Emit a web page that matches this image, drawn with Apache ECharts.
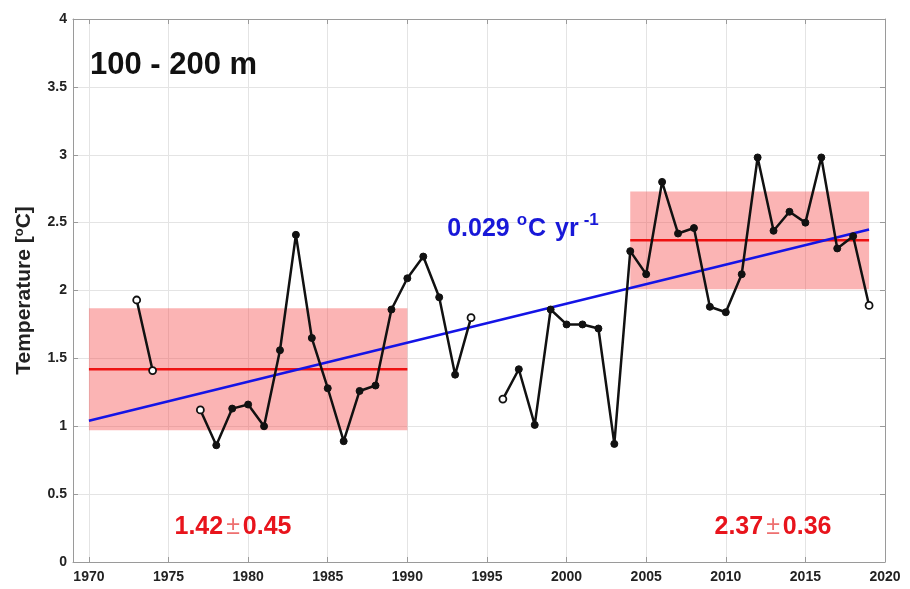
<!DOCTYPE html>
<html><head><meta charset="utf-8">
<script src="https://cdn.jsdelivr.net/npm/echarts@6/dist/echarts.min.js"></script>
<style>html,body{margin:0;padding:0;background:#fff}#c{width:910px;height:589px}</style>
</head><body><div id="c"></div>
<script>
// ---- data ----
const years = [1973,1974,1975,1976,1977,1978,1979,1980,1981,1982,1983,1984,1985,1986,1987,1988,1989,1990,
  1991,1992,1993,1994,1995,1996,1997,1998,1999,2000,2001,2002,2003,2004,2005,2006,2007,2008,2009,2010,
  2011,2012,2013,2014,2015,2016,2017,2018,2019];
const temps = [1.93,1.41,null,null,1.12,0.86,1.13,1.16,1.00,1.56,2.41,1.65,1.28,0.89,1.26,1.30,1.86,2.09,
  2.25,1.95,1.38,1.80,null,1.20,1.42,1.01,1.86,1.75,1.75,1.72,0.87,2.29,2.12,2.80,2.42,2.46,1.88,1.84,
  2.12,2.98,2.44,2.58,2.50,2.98,2.31,2.40,1.89];
const xTicks = [1970,1975,1980,1985,1990,1995,2000,2005,2010,2015,2020];
const periodEarly = [1970, 1990];
const periodLate = [2004, 2019];
const meanEarly = 1.42, sdEarly = 0.45;
const meanLate = 2.37, sdLate = 0.36;
const trendYears = [1970, 2019];
const trendValues = [1.04, 2.45];
const titleText = '100 - 200 m';
const trendText = '0.029';
// ---------------------------------------

const FONT = '"Liberation Sans", Arial, sans-serif';
const frameColor = '#9a9a9a';
const gridColor = '#e4e4e4';

const mainData = years.map((y, i) => {
  const v = temps[i];
  if (v === null) return [y, null];
  const prevNull = i === 0 || temps[i - 1] === null;
  const nextNull = i === temps.length - 1 || temps[i + 1] === null;
  if (prevNull || nextNull) {
    return { value: [y, v], itemStyle: { color: '#fff', borderColor: '#111', borderWidth: 1.8 } };
  }
  return [y, v];
});

const chart = echarts.init(document.getElementById('c'), null, { renderer: 'canvas' });
const option = {
  animation: false,
  backgroundColor: '#fff',
  grid: { left: 73, top: 19, right: 25, bottom: 27, containLabel: false, outerBoundsMode: 'none' },
  xAxis: [{
    type: 'value', min: 1969, max: 2020, position: 'bottom',
    axisLine: { show: true, onZero: false, lineStyle: { color: frameColor, width: 1 } },
    axisTick: { show: true, inside: true, length: 5, customValues: xTicks, lineStyle: { color: frameColor } },
    axisLabel: { show: true, customValues: xTicks, formatter: v => String(v), margin: 8, color: '#222', fontSize: 14, fontWeight: 'bold', fontFamily: FONT },
    splitLine: { show: true, lineStyle: { color: gridColor, width: 1 } }
  }, {
    type: 'value', min: 1969, max: 2020, position: 'top',
    axisLine: { show: true, onZero: false, lineStyle: { color: frameColor, width: 1 } },
    axisTick: { show: true, inside: true, length: 5, customValues: xTicks, lineStyle: { color: frameColor } },
    axisLabel: { show: false },
    splitLine: { show: false }
  }],
  yAxis: [{
    type: 'value', min: 0, max: 4, interval: 0.5, position: 'left',
    name: 'Temperature [{s|o}C]',
    nameLocation: 'middle', nameGap: 38,
    nameTextStyle: {
      color: '#222', fontSize: 21, fontWeight: 'bold', fontFamily: FONT, lineHeight: 22,
      rich: { s: { fontSize: 13, fontWeight: 'bold', fontFamily: FONT, color: '#222', verticalAlign: 'top', lineHeight: 13 } }
    },
    axisLine: { show: true, onZero: false, lineStyle: { color: frameColor, width: 1 } },
    axisTick: { show: true, inside: true, length: 5, lineStyle: { color: frameColor } },
    axisLabel: { margin: 6, color: '#222', fontSize: 14, fontWeight: 'bold', fontFamily: FONT },
    splitLine: { show: true, lineStyle: { color: gridColor, width: 1 } }
  }, {
    type: 'value', min: 0, max: 4, interval: 0.5, position: 'right',
    axisLine: { show: true, onZero: false, lineStyle: { color: frameColor, width: 1 } },
    axisTick: { show: true, inside: true, length: 5, lineStyle: { color: frameColor } },
    axisLabel: { show: false },
    splitLine: { show: false }
  }],
  series: [
    {
      type: 'line', data: [], z: 1, silent: true,
      markArea: {
        silent: true,
        itemStyle: { color: 'rgba(244,67,67,0.4)' },
        data: [
          [{ xAxis: periodEarly[0], yAxis: meanEarly - sdEarly }, { xAxis: periodEarly[1], yAxis: meanEarly + sdEarly }],
          [{ xAxis: periodLate[0], yAxis: meanLate - sdLate }, { xAxis: periodLate[1], yAxis: meanLate + sdLate }]
        ]
      }
    },
    {
      type: 'line', z: 3, symbol: 'none', silent: true,
      lineStyle: { color: '#ee1111', width: 2.5 },
      data: [[periodEarly[0], meanEarly], [periodEarly[1], meanEarly], [null, null], [periodLate[0], meanLate], [periodLate[1], meanLate]],
      connectNulls: false
    },
    {
      type: 'line', z: 4, symbol: 'none', silent: true,
      lineStyle: { color: '#1414e6', width: 2.5 },
      data: trendYears.map((y, i) => [y, trendValues[i]])
    },
    {
      type: 'line', z: 5, silent: true,
      data: mainData, connectNulls: false,
      symbol: 'circle', symbolSize: 7, showSymbol: true,
      lineStyle: { color: '#111', width: 2.5 },
      itemStyle: { color: '#111', borderColor: '#111', borderWidth: 1 }
    }
  ],
  graphic: [
    { type: 'text', left: 90, top: 50, z: 10, style: { text: titleText, font: 'bold 31px ' + FONT, fill: '#111' } },
    { type: 'text', z: 10, x: 523, y: 227, style: {
        text: '{n|' + trendText + ' }{s|o}{n|C }{y|yr}{m|-1}',
        align: 'center', verticalAlign: 'middle',
        rich: {
          n: { font: 'bold 25px ' + FONT, fill: '#1818d8', lineHeight: 30, verticalAlign: 'bottom' },
          y: { font: 'bold 25px ' + FONT, fill: '#1818d8', lineHeight: 30, verticalAlign: 'bottom', padding: [0, 4, 0, 2] },
          s: { font: 'bold 17px ' + FONT, fill: '#1818d8', lineHeight: 17, verticalAlign: 'top', padding: [0, 1, 0, 0] },
          m: { font: 'bold 17px ' + FONT, fill: '#1818d8', lineHeight: 17, verticalAlign: 'top', padding: [0, 0, 0, 1] }
        } } },
    { type: 'text', z: 10, x: 233, y: 527, style: {
        text: '{n|' + meanEarly.toFixed(2) + '}{p|±}{n|' + sdEarly.toFixed(2) + '}',
        align: 'center', verticalAlign: 'middle',
        rich: {
          n: { font: 'bold 25px ' + FONT, fill: '#e8141c' },
          p: { font: '25px ' + FONT, fill: '#ee7070', padding: [0, 3, 0, 3] }
        } } },
    { type: 'text', z: 10, x: 773, y: 527, style: {
        text: '{n|' + meanLate.toFixed(2) + '}{p|±}{n|' + sdLate.toFixed(2) + '}',
        align: 'center', verticalAlign: 'middle',
        rich: {
          n: { font: 'bold 25px ' + FONT, fill: '#e8141c' },
          p: { font: '25px ' + FONT, fill: '#ee7070', padding: [0, 3, 0, 3] }
        } } }
  ]
};
chart.setOption(option);
</script>
</body></html>
